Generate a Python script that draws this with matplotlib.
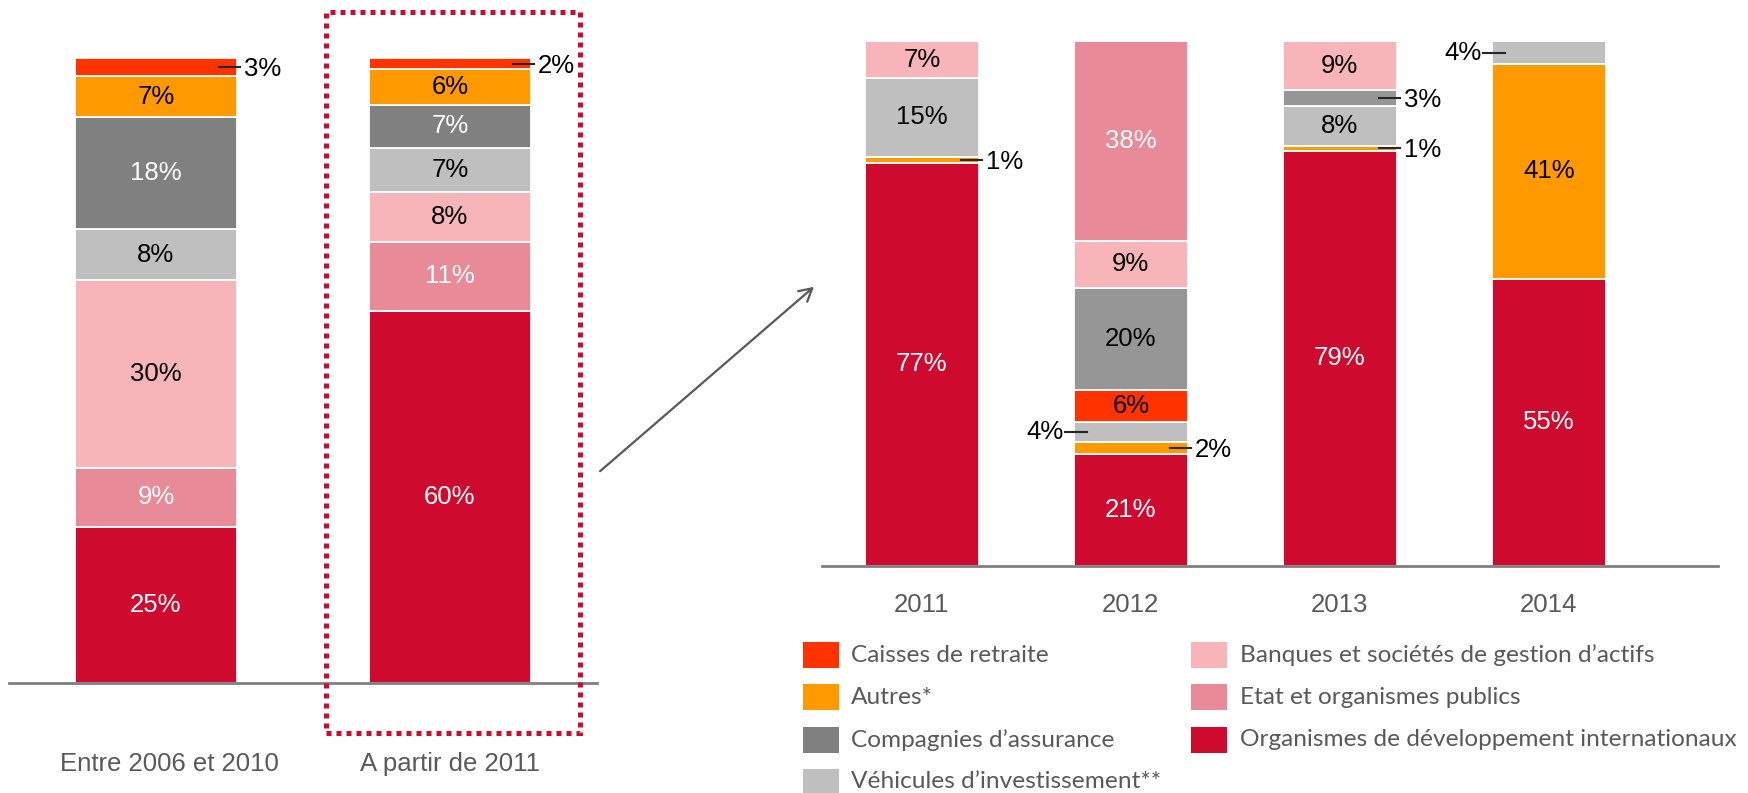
import matplotlib
matplotlib.use("Agg")
import matplotlib.pyplot as plt
from matplotlib.patches import Rectangle, FancyArrowPatch
from matplotlib.transforms import ScaledTranslation

# ---------------- data ----------------
series_names = ["Caisses de retraite", "Autres*", "Compagnies d\u2019assurance",
                "V\u00e9hicules d\u2019investissement**",
                "Banques et soci\u00e9t\u00e9s de gestion d\u2019actifs",
                "Etat et organismes publics",
                "Organismes de d\u00e9veloppement internationaux"]

left_cats = ["Entre 2006 et 2010", "A partir de 2011"]
left_org = [25.0, 59.6]
left_etat = [9.4, 11.0]
left_banques = [30.0, 7.9]
left_vehicules = [8.2, 7.1]
left_compagnies = [17.9, 6.9]
left_autres = [6.6, 5.7]
left_caisses = [2.9, 1.8]

right_cats = ["2011", "2012", "2013", "2014"]
right_org = [76.8, 21.3, 79.1, 54.7]
right_autres = [1.2, 2.3, 0.9, 41.0]
right_vehicules = [15.0, 3.8, 7.7, 4.3]
right_caisses = [0.0, 6.0, 0.0, 0.0]
right_compagnies = [0.0, 19.6, 3.0, 0.0]
right_banques = [7.0, 8.9, 9.3, 0.0]
right_etat = [0.0, 38.1, 0.0, 0.0]

# ---------------- style ----------------
C_ORG = "#CE0A2E"
C_ETAT = "#E88A98"
C_BANQ = "#F7B5BA"
C_VEH = "#BFBFBF"
C_COMP = "#808080"
C_COMP_R = "#969696"
C_AUT = "#FF9900"
C_CAIS = "#FF3300"
GREY_TXT = "#595959"
FONT = "Liberation Sans"
FS = 18.5

W, H = 1749, 793
fig = plt.figure(figsize=(W / 100, H / 100), dpi=100)


def fx(px):
    return px / W


def fy(py):
    return 1 - py / H


def stacked(ax, cats, layers, width, ppu_x, ppu_y, side_left=()):
    x = list(range(len(cats)))
    bottoms = [0.0] * len(cats)
    for key, vals, color, tcolor in layers:
        ax.bar(x, vals, width, bottom=bottoms, color=color,
               edgecolor="white", linewidth=1.3, zorder=2)
        for i, v in enumerate(vals):
            if v <= 0:
                continue
            yc = bottoms[i] + v / 2
            lab = f"{round(v):.0f}%"
            if v >= 5:
                ax.text(x[i], yc, lab, ha="center", va="center",
                        color=tcolor, fontsize=FS, family=FONT, zorder=4)
            else:
                if (i, key) in side_left:
                    le = x[i] - width / 2
                    ax.plot([le - 9 / ppu_x, le + 13 / ppu_x], [yc, yc],
                            color="#262626", lw=1.5, zorder=5, clip_on=False)
                    ax.text(le - 10 / ppu_x, yc, lab, ha="right", va="center",
                            color="black", fontsize=FS, family=FONT,
                            clip_on=False)
                else:
                    re = x[i] + width / 2
                    ax.plot([re - 18 / ppu_x, re + 3 / ppu_x], [yc, yc],
                            color="#262626", lw=1.5, zorder=5, clip_on=False)
                    ax.text(re + 7 / ppu_x, yc - 2 / ppu_y, lab, ha="left",
                            va="center", color="black", fontsize=FS,
                            family=FONT, clip_on=False)
        bottoms = [b + v for b, v in zip(bottoms, vals)]


def style_axes(ax):
    for s in ["top", "left", "right"]:
        ax.spines[s].set_visible(False)
    ax.spines["bottom"].set_color("#7F7F7F")
    ax.spines["bottom"].set_linewidth(2)
    ax.set_yticks([])
    ax.tick_params(axis="x", length=0)
    ax.set_ylim(0, 100)


# ---------------- left chart ----------------
ax1 = fig.add_axes([fx(9), fy(683), (597 - 9) / W, (683 - 58) / H])
style_axes(ax1)
ax1.set_xlim(-0.5, 1.5)
ppu1_x = 588 / 2.0
ppu1_y = 625 / 100
left_layers = [
    ("org", left_org, C_ORG, "white"),
    ("etat", left_etat, C_ETAT, "white"),
    ("banq", left_banques, C_BANQ, "black"),
    ("veh", left_vehicules, C_VEH, "black"),
    ("comp", left_compagnies, C_COMP, "white"),
    ("aut", left_autres, C_AUT, "black"),
    ("cais", left_caisses, C_CAIS, "black"),
]
stacked(ax1, left_cats, left_layers, 0.548, ppu1_x, ppu1_y)
ax1.set_xticks(range(len(left_cats)))
ax1.set_xticklabels(left_cats, fontsize=FS, color=GREY_TXT, family=FONT)
ax1.tick_params(axis="x", pad=50)
lbl0 = ax1.get_xticklabels()[0]
lbl0.set_transform(lbl0.get_transform() +
                   ScaledTranslation(0.13, 0, fig.dpi_scale_trans))

# ---------------- right chart ----------------
ax2 = fig.add_axes([fx(822), fy(565.5), (1718 - 822) / W, (565.5 - 41.3) / H])
style_axes(ax2)
ax2.set_xlim(-0.478, 3.81)
ppu2_x = 896 / 4.288
ppu2_y = 524.2 / 100
right_layers = [
    ("org", right_org, C_ORG, "white"),
    ("aut", right_autres, C_AUT, "black"),
    ("veh", right_vehicules, C_VEH, "black"),
    ("cais", right_caisses, C_CAIS, "black"),
    ("comp", right_compagnies, C_COMP_R, "black"),
    ("banq", right_banques, C_BANQ, "black"),
    ("etat", right_etat, C_ETAT, "white"),
]
stacked(ax2, right_cats, right_layers, 0.545, ppu2_x, ppu2_y,
        side_left={(1, "veh"), (3, "veh")})
ax2.set_xticks(range(len(right_cats)))
ax2.set_xticklabels(right_cats, fontsize=FS, color=GREY_TXT, family=FONT)
ax2.tick_params(axis="x", pad=20)

# ---------------- dotted highlight box ----------------
box = Rectangle((fx(326), fy(733)), (580 - 326) / W, (733 - 12) / H,
                transform=fig.transFigure, fill=False, edgecolor=C_ORG,
                linewidth=3.6, linestyle=(0, (1, 1)), zorder=10)
box.set_capstyle("butt")
fig.patches.append(box)

# ---------------- arrow ----------------
arr = FancyArrowPatch((fx(598), fy(473)), (fx(816), fy(285)),
                      transform=fig.transFigure,
                      arrowstyle="->,head_length=9,head_width=5",
                      color=GREY_TXT, lw=1.6, mutation_scale=1)
fig.patches.append(arr)

# ---------------- legend ----------------
legend_colors = [C_CAIS, C_AUT, C_COMP, C_VEH, C_BANQ, C_ETAT, C_ORG]
row_y = [655, 697, 740, 782]
col_sq = [803, 1191]
col_tx = [851, 1240]
for k, (name, col) in enumerate(zip(series_names, legend_colors)):
    c = 0 if k < 4 else 1
    r = k if k < 4 else k - 4
    yc = row_y[r]
    sq = Rectangle((fx(col_sq[c]), fy(yc + 13)), 36 / W, 26 / H,
                   transform=fig.transFigure, facecolor=col, edgecolor="none")
    fig.patches.append(sq)
    fig.text(fx(col_tx[c]), fy(yc), name, ha="left", va="center",
             fontsize=17.6, color=GREY_TXT, family="Lato")

fig.savefig("out.png", dpi=100)
